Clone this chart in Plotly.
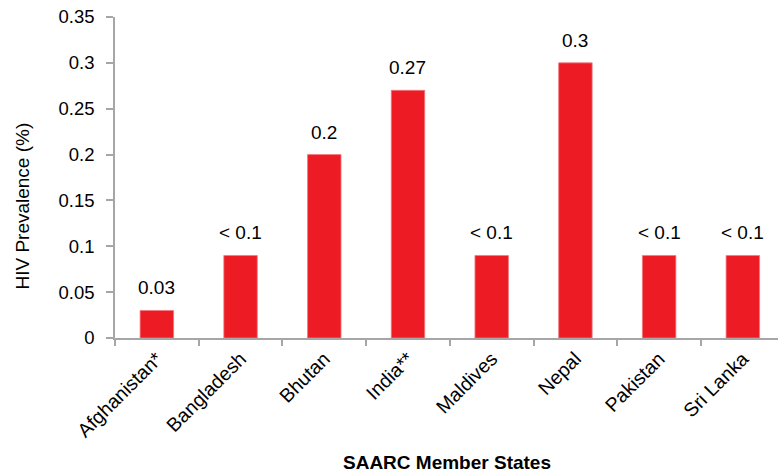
import plotly.graph_objects as go

# HIV prevalence among SAARC member states
countries = ["Afghanistan*", "Bangladesh", "Bhutan", "India**",
             "Maldives", "Nepal", "Pakistan", "Sri Lanka"]
prevalence = [0.03, 0.09, 0.2, 0.27, 0.09, 0.3, 0.09, 0.09]
value_labels = ["0.03", "< 0.1", "0.2", "0.27", "< 0.1", "0.3", "< 0.1", "< 0.1"]

y_ticks = [0, 0.05, 0.1, 0.15, 0.2, 0.25, 0.3, 0.35]
y_tick_text = ["0", "0.05", "0.1", "0.15", "0.2", "0.25", "0.3", "0.35"]

BAR_RED = "#ED1C24"
AXIS_GREY = "#A6A6A6"
FONT = "Liberation Sans, Arial, sans-serif"

fig = go.Figure(
    go.Bar(
        x=countries,
        y=prevalence,
        width=0.4,
        marker=dict(color=BAR_RED, line=dict(color="#F37A7F", width=0.8)),
        hoverinfo="x+y",
    )
)

# value labels sitting above each bar
for c, v, t in zip(countries, prevalence, value_labels):
    fig.add_annotation(
        x=c, y=v, text=t, showarrow=False, yanchor="bottom", yshift=10,
        font=dict(family=FONT, size=19, color="#000000"),
    )

# axis titles
fig.add_annotation(
    text="HIV Prevalence (%)", textangle=-90, xref="paper", yref="paper",
    x=-0.14, y=0.41, xanchor="center", yanchor="middle", showarrow=False,
    font=dict(family=FONT, size=19, color="#000000"),
)
fig.add_annotation(
    text="<b>SAARC Member States</b>", xref="paper", yref="paper",
    x=0.5, y=-0.389, xanchor="center", yanchor="middle", showarrow=False,
    font=dict(family=FONT, size=19, color="#000000"),
)

fig.update_layout(
    width=778, height=473,
    margin=dict(l=115, r=0, t=17, b=135),
    paper_bgcolor="white", plot_bgcolor="white",
    showlegend=False,
    font=dict(family=FONT, size=18, color="#000000"),
    xaxis=dict(
        range=[-0.5, 7.42],
        showline=True, linecolor=AXIS_GREY, linewidth=1.5,
        ticks="outside", tickson="boundaries", ticklen=6,
        tickcolor=AXIS_GREY, tickwidth=1.5,
        tickangle=-45,
        tickfont=dict(family=FONT, size=19.5, color="#000000"),
        showgrid=False, zeroline=False, fixedrange=True,
    ),
    yaxis=dict(
        range=[0, 0.35],
        tickvals=y_ticks, ticktext=y_tick_text,
        showline=True, linecolor=AXIS_GREY, linewidth=1.5,
        ticks="outside", ticklen=7, tickcolor=AXIS_GREY, tickwidth=1.5,
        ticklabelstandoff=8,
        tickfont=dict(family=FONT, size=18.5, color="#000000"),
        showgrid=False, zeroline=False, fixedrange=True,
    ),
)

fig.write_html("out.html")
